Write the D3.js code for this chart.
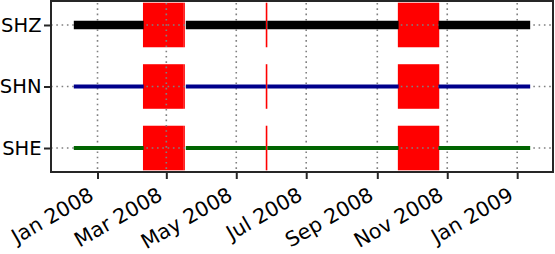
<!DOCTYPE html>
<html>
<head>
<meta charset="utf-8">
<script src="https://cdn.jsdelivr.net/npm/d3@7"></script>
<style>
  body { margin: 0; background: #fff; }
  text { font-family: "DejaVu Sans", sans-serif; fill: #000; }
</style>
</head>
<body>
<div id="chart-area"></div>
<script>
// channels, bottom to top
var channels = ["SHE", "SHN", "SHZ"];

// stretches with data (same for each channel)
var segStarts = ["2007-12-11T08:00", "2008-03-18T00:00", "2008-05-28T02:00", "2008-10-24T09:00"];
var segEnds   = ["2008-02-10T07:00", "2008-05-26T20:00", "2008-09-19T14:00", "2009-01-12T08:00"];

// gaps in the data
var gapStarts = ["2008-02-10T07:00", "2008-03-16T10:00", "2008-05-27T09:00", "2008-09-19T14:00"];
var gapEnds   = ["2008-03-15T02:00", "2008-03-16T12:00", "2008-05-27T11:00", "2008-10-24T09:00"];

var tickDates = ["2008-01-01", "2008-03-01", "2008-05-01", "2008-07-01", "2008-09-01", "2008-11-01", "2009-01-01"];

var W = 555, H = 254;
var margin = { left: 51, right: 2, top: 1, bottom: 82 };

var parse = function(s) { return new Date(s); };

var segs = segStarts.map(function(s, i) { return { start: parse(s), end: parse(segEnds[i]) }; });
var gaps = gapStarts.map(function(s, i) { return { start: parse(s), end: parse(gapEnds[i]) }; });

var t0 = d3.min(segs, function(d) { return d.start; });
var t1 = d3.max(segs, function(d) { return d.end; });
var pad = (t1 - t0) * 0.05;

var x = d3.scaleTime()
  .domain([new Date(+t0 - pad), new Date(+t1 + pad)])
  .range([margin.left, W - margin.right]);

var y = d3.scaleLinear()
  .domain([-0.39, 2.39])
  .range([H - margin.bottom, margin.top]);

var color = d3.scaleOrdinal()
  .domain(channels)
  .range(["#006400", "#00008b", "#000000"]);

var lineWidth = d3.scaleOrdinal()
  .domain(channels)
  .range([4, 4, 8.5]);

var svg = d3.select("#chart-area").append("svg")
  .attr("width", W)
  .attr("height", H);

// red gap boxes
channels.forEach(function(ch, ci) {
  svg.append("g").selectAll("rect")
    .data(gaps)
    .enter().append("rect")
      .attr("x", function(d) { return x(d.start); })
      .attr("width", function(d) { return Math.max(0, x(d.end) - x(d.start)); })
      .attr("y", y(ci + 0.35))
      .attr("height", y(ci - 0.35) - y(ci + 0.35))
      .attr("fill", "red")
      .attr("stroke", "red")
      .attr("stroke-width", 1.5);
});

// dotted grid
var grid = svg.append("g")
  .attr("stroke", "#808080")
  .attr("stroke-width", 1.6)
  .attr("stroke-dasharray", "1.6,3.7");

grid.selectAll(".vgrid")
  .data(tickDates)
  .enter().append("line")
    .attr("class", "vgrid")
    .attr("x1", function(d) { return x(parse(d)); })
    .attr("x2", function(d) { return x(parse(d)); })
    .attr("y1", margin.top + 2)
    .attr("y2", H - margin.bottom);

grid.selectAll(".hgrid")
  .data(channels)
  .enter().append("line")
    .attr("class", "hgrid")
    .attr("x1", margin.left)
    .attr("x2", W - margin.right)
    .attr("y1", function(d, i) { return y(i); })
    .attr("y2", function(d, i) { return y(i); });

// data lines
channels.forEach(function(ch, ci) {
  svg.append("g").selectAll("line")
    .data(segs)
    .enter().append("line")
      .attr("x1", function(d) { return x(d.start); })
      .attr("x2", function(d) { return x(d.end); })
      .attr("y1", y(ci))
      .attr("y2", y(ci))
      .attr("stroke", color(ch))
      .attr("stroke-width", lineWidth(ch));
});

// axes
var xAxis = d3.axisBottom(x)
  .tickValues(tickDates.map(parse))
  .tickFormat(d3.timeFormat("%b %Y"))
  .tickSizeInner(7)
  .tickSizeOuter(0);

var xg = svg.append("g")
  .attr("transform", "translate(0," + (H - margin.bottom) + ")")
  .call(xAxis);

xg.select(".domain").remove();
xg.selectAll(".tick line").attr("stroke", "#262626").attr("stroke-width", 2);
xg.selectAll(".tick text")
  .attr("font-size", "20.5px")
  .attr("font-family", "DejaVu Sans")
  .attr("fill", "#000")
  .attr("text-anchor", "end")
  .attr("dy", null)
  .attr("y", null)
  .attr("transform", "translate(-3,27) rotate(-30)");

var yAxis = d3.axisLeft(y)
  .tickValues([0, 1, 2])
  .tickFormat(function(d) { return channels[d]; })
  .tickSizeInner(7)
  .tickSizeOuter(0)
  .tickPadding(2.5);

var yg = svg.append("g")
  .attr("transform", "translate(" + margin.left + ",0)")
  .call(yAxis);

yg.select(".domain").remove();
yg.selectAll(".tick line").attr("stroke", "#262626").attr("stroke-width", 2);
yg.selectAll(".tick text")
  .attr("font-size", "19.5px")
  .attr("font-family", "DejaVu Sans")
  .attr("fill", "#000");

// frame
svg.append("rect")
  .attr("x", margin.left)
  .attr("y", margin.top)
  .attr("width", W - margin.left - margin.right)
  .attr("height", H - margin.top - margin.bottom)
  .attr("fill", "none")
  .attr("stroke", "#262626")
  .attr("stroke-width", 2);
</script>
</body>
</html>
